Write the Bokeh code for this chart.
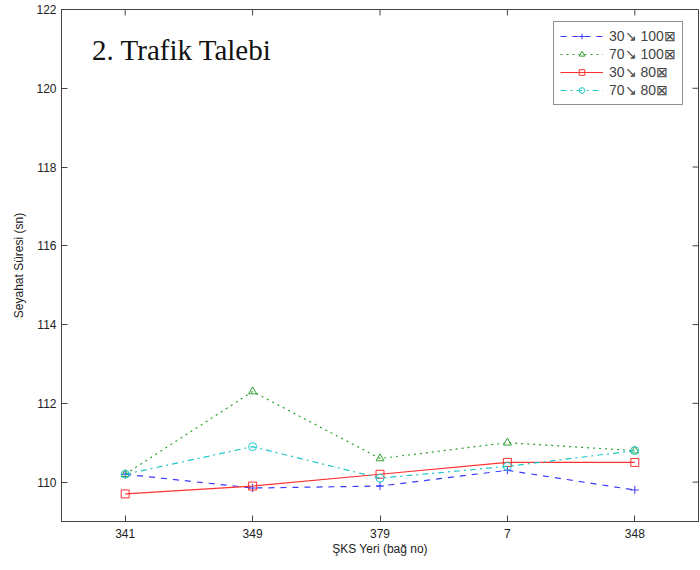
from bokeh.plotting import figure
from bokeh.models import Range1d, FixedTicker, Label, Legend, LegendItem
from bokeh.embed import file_html
from bokeh.resources import INLINE

sites = ["341", "349", "379", "7", "348"]
xs = [1, 2, 3, 4, 5]
s_30_100 = [110.2, 109.85, 109.9, 110.3, 109.8]
s_70_100 = [110.2, 112.3, 110.6, 111.0, 110.8]
s_30_80 = [109.7, 109.9, 110.2, 110.5, 110.5]
s_70_80 = [110.2, 110.9, 110.1, 110.4, 110.8]
labels = ["30\u2198 100\u22a0", "70\u2198 100\u22a0", "30\u2198 80\u22a0", "70\u2198 80\u22a0"]
y_ticks = [110, 112, 114, 116, 118, 120, 122]

W, H = 700, 570
BL, BR, BT, BB = 61, 2, 9, 49
x0, x1, y0, y1 = 0.5, 5.5, 109, 122

p = figure(width=W, height=H, output_backend="svg", toolbar_location=None,
           x_range=Range1d(x0, x1), y_range=Range1d(y0, y1),
           min_border_left=BL, min_border_right=BR, min_border_top=BT, min_border_bottom=BB)
p.grid.visible = False
p.outline_line_color = "#444444"
p.background_fill_color = "white"

series = [
    (s_30_100, "#3a3aff", "dashed", "cross"),
    (s_70_100, "#2ea02e", "dotted", "triangle"),
    (s_30_80, "#ff3030", "solid", "square"),
    (s_70_80, "#20c8c8", "dashdot", "circle"),
]
items = []
for (ys, col, dash, mk), lab in zip(series, labels):
    r1 = p.line(xs, ys, line_color=col, line_dash=dash, line_width=1.2)
    r2 = p.scatter(xs, ys, marker=mk, size=8, line_color=col, fill_color=None, line_width=1)
    items.append(LegendItem(label=lab, renderers=[r1, r2]))

fw = W - BL - BR
fh = H - BT - BB
legend = Legend(items=items, location=(492, 416), label_text_font="Liberation Sans",
                label_text_font_size="14px", glyph_width=43, glyph_height=14,
                label_height=14, spacing=2, padding=6, margin=0,
                border_line_color="#222222", border_line_width=1,
                label_standoff=6, background_fill_alpha=1)
p.add_layout(legend, "center")

for ax in [p.xaxis[0], p.yaxis[0]]:
    ax.major_tick_in = 6
    ax.major_tick_out = 0
    ax.minor_tick_line_color = None
    ax.axis_line_color = "#444444"
    ax.major_tick_line_color = "#444444"
    ax.major_label_text_font = "Liberation Sans"
    ax.major_label_text_font_size = "12px"
    ax.major_label_text_color = "#222222"
    ax.axis_label_text_font = "Liberation Sans"
    ax.axis_label_text_font_size = "12px"
    ax.axis_label_text_font_style = "normal"
    ax.axis_label_text_color = "#222222"

p.xaxis.ticker = FixedTicker(ticks=xs)
p.xaxis.major_label_overrides = {x: s for x, s in zip(xs, sites)}
p.xaxis.major_label_standoff = 7
p.xaxis.axis_label = "\u015eKS Yeri (ba\u011f no)"
p.xaxis.axis_label_standoff = 1
p.yaxis.ticker = FixedTicker(ticks=y_ticks)
p.yaxis.axis_label = "Seyahat S\u00fcresi (sn)"
p.yaxis.axis_label_standoff = 7

# inward tick marks on the top and right frame edges
tick_len_y = 6 * (y1 - y0) / fh
tick_len_x = 6 * (x1 - x0) / fw
p.segment(x0=xs, y0=[y1] * len(xs), x1=xs, y1=[y1 - tick_len_y] * len(xs),
          line_color="#444444", line_width=1)
p.segment(x0=[x1] * len(y_ticks), y0=y_ticks, x1=[x1 - tick_len_x] * len(y_ticks), y1=y_ticks,
          line_color="#444444", line_width=1)

title = Label(x=0.74, y=120.98, text="2. Trafik Talebi", text_font="Liberation Serif",
              text_font_size="29px", text_color="#111111", text_baseline="middle")
p.add_layout(title)

open("out.html", "w").write(file_html(p, INLINE))
